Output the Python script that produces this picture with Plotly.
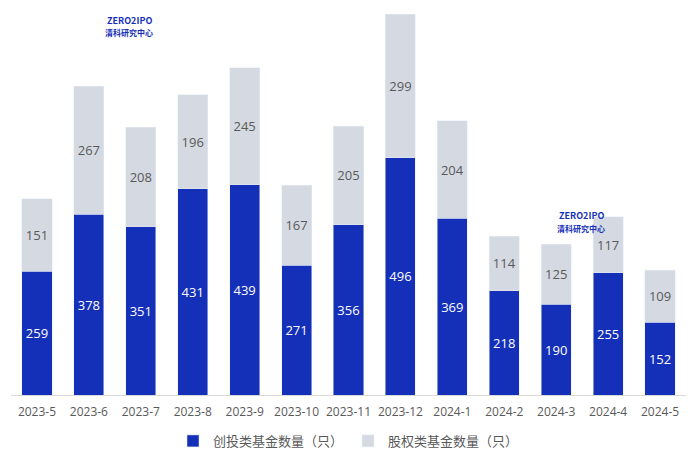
import plotly.graph_objects as go

months = ["2023-5", "2023-6", "2023-7", "2023-8", "2023-9", "2023-10", "2023-11",
          "2023-12", "2024-1", "2024-2", "2024-3", "2024-4", "2024-5"]
vc_funds = [259, 378, 351, 431, 439, 271, 356, 496, 369, 218, 190, 255, 152]
pe_funds = [151, 267, 208, 196, 245, 167, 205, 299, 204, 114, 125, 117, 109]

BLUE = "#1530B8"
GREY = "#D5D9E2"

fig = go.Figure()

fig.add_trace(go.Bar(
    x=months, y=vc_funds, name="创投类基金数量（只）",
    marker_color=BLUE,
    text=vc_funds, textposition="inside", insidetextanchor="middle",
    textfont=dict(family="Open Sans, sans-serif", color="white", size=13),
))

fig.add_trace(go.Bar(
    x=months, y=pe_funds, name="股权类基金数量（只）",
    marker_color=GREY,
    text=pe_funds, textposition="inside", insidetextanchor="middle",
    textfont=dict(family="Open Sans, sans-serif", color="#595959", size=13),
))

# watermark logos
for x, y in [(0.175, 1.0), (0.845, 0.49)]:
    fig.add_annotation(x=x, y=y, xref="paper", yref="paper", showarrow=False,
                       text="<b>ZERO2IPO</b>", font=dict(size=9, color="#1530B8"),
                       xanchor="center", yanchor="top")
    fig.add_annotation(x=x, y=y - 0.035, xref="paper", yref="paper", showarrow=False,
                       text="<b>清科研究中心</b>", font=dict(size=8, color="#1530B8"),
                       xanchor="center", yanchor="top")

fig.update_layout(
    barmode="stack",
    bargap=0.42,
    width=700, height=459,
    margin=dict(l=3, r=22, t=4, b=72, autoexpand=False),
    plot_bgcolor="white",
    paper_bgcolor="white",
    font=dict(family="Noto Sans CJK SC, Noto Sans, sans-serif", color="#595959"),
    uniformtext=dict(mode="show", minsize=10),
    legend=dict(orientation="h", x=0.5, xanchor="center", y=-0.12, yanchor="middle",
                traceorder="normal", font=dict(size=13, color="#595959")),
    xaxis=dict(type="category", showline=True, linecolor="#D9D9D9",
               tickfont=dict(family="Open Sans, sans-serif", size=12, color="#595959"),
               ticks="outside", ticklen=6, tickcolor="rgba(0,0,0,0)", showgrid=False),
    yaxis=dict(range=[0, 800], visible=False, showgrid=False),
)

fig.write_html("out.html")
